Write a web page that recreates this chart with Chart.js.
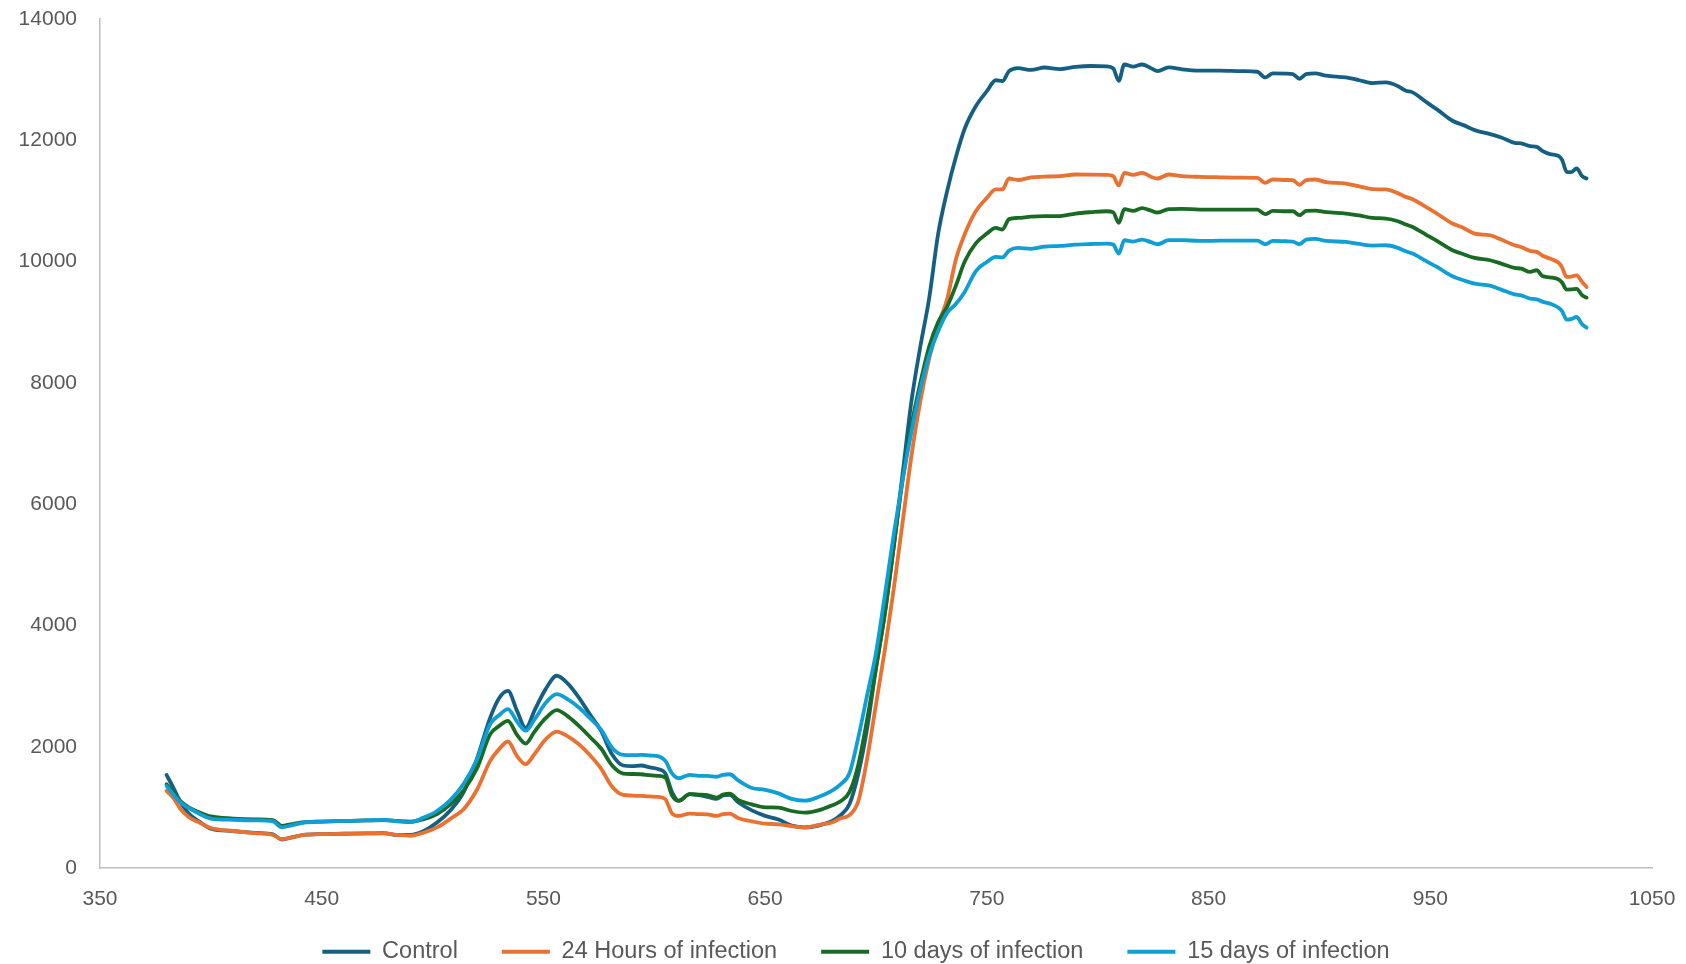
<!DOCTYPE html>
<html>
<head>
<meta charset="utf-8">
<script src="https://cdn.jsdelivr.net/npm/chart.js@4.4.1/dist/chart.umd.min.js"></script>
<style>
  html, body { margin: 0; padding: 0; background: #ffffff; }
  #c { display: block; }
</style>
</head>
<body>
<canvas id="c" width="1686" height="964"></canvas>
<script>
// Reflectance spectra (wavelength in nm) for each infection stage
const wavelengths = [
  380,383,386,390,395,400,410,420,428,432,
  436,442,450,460,470,478,484,490,496,502,
  508,514,520,526,530,534,538,542,546,551,
  556,561,566,571,576,581,586,590,594,598,
  602,605,608,611,616,620,624,628,631,634,
  638,644,650,656,662,668,674,680,684,688,
  692,696,700,704,708,712,716,720,724,728,
  732,736,740,745,750,754,757,760,764,770,
  776,783,790,797,804,807,809.5,812,816,820,
  824,827,832,838,846,855,865,872,875.5,879,
  885,888,891,894,898,903,912,918,924,930,
  935,939,942,948,953,960,965,970,977,982,
  988,991,995,998,1000.5,1004,1008,1009.5,1011.5,1013.5,
  1016,1018.5,1020.5
];

const control = [
  1535,1330,1110,900,760,650,610,580,555,470,
  500,545,560,565,570,575,545,545,611,750,
  950,1250,1800,2480,2800,2920,2600,2310,2600,2950,
  3170,3040,2810,2530,2260,1870,1690,1680,1690,1660,
  1630,1560,1250,1110,1217,1200,1172,1140,1195,1205,
  1080,950,860,800,700,670,700,770,870,1050,
  1550,2300,3300,4200,5300,6500,7700,8600,9400,10450,
  11150,11720,12190,12560,12810,12990,12975,13140,13190,13160,
  13200,13175,13210,13225,13220,13185,12980,13250,13215,13250,
  13190,13140,13203,13170,13150,13150,13140,13130,13037,13103,
  13100,13092,13015,13092,13103,13065,13037,12990,12944,12955,
  12900,12817,12790,12635,12509,12322,12250,12168,12102,12047,
  11958,11948,11904,11892,11826,11771,11738,11672,11480,11474,
  11535,11408,11370
];

const hours24 = [
  1271,1161,990,840,745,660,610,575,545,475,
  500,545,560,565,570,571,545,532,583,670,
  810,970,1290,1767,1960,2086,1850,1712,1880,2120,
  2250,2170,2040,1860,1640,1340,1205,1195,1189,1180,
  1172,1134,900,859,897,890,886,858,890,897,
  820,770,731,721,690,666,710,750,820,870,
  1100,1800,2700,3600,4600,5700,6800,7700,8400,8950,
  9370,10030,10450,10830,11050,11189,11189,11370,11345,11390,
  11400,11410,11436,11435,11430,11410,11255,11463,11430,11463,
  11400,11370,11436,11410,11397,11390,11385,11381,11298,11353,
  11345,11342,11265,11342,11353,11309,11287,11240,11194,11189,
  11133,11067,11029,10902,10792,10627,10555,10462,10434,10363,
  10269,10241,10175,10160,10100,10049,9977,9900,9746,9750,
  9774,9664,9581
];

const days10 = [
  1382,1244,1110,1000,915,850,815,800,790,695,
  720,755,765,775,785,790,775,765,805,890,
  1050,1280,1640,2207,2340,2427,2200,2052,2250,2470,
  2603,2500,2344,2160,1970,1690,1557,1550,1546,1530,
  1519,1491,1200,1106,1217,1210,1200,1161,1210,1227,
  1117,1050,1000,996,940,913,950,1030,1100,1250,
  1700,2450,3300,4200,5300,6400,7300,8000,8600,9000,
  9250,9600,10000,10300,10462,10555,10528,10700,10720,10740,
  10748,10750,10792,10815,10830,10810,10637,10864,10836,10880,
  10840,10809,10864,10870,10857,10857,10857,10857,10781,10836,
  10830,10830,10765,10836,10841,10814,10792,10760,10720,10709,
  10670,10610,10571,10445,10340,10187,10120,10060,10022,9967,
  9895,9884,9829,9857,9763,9740,9703,9650,9538,9540,
  9549,9444,9406
];

const days15 = [
  1354,1217,1090,990,890,815,795,785,770,670,
  700,748,765,775,785,792,770,755,831,940,
  1120,1390,1790,2372,2520,2620,2420,2265,2450,2720,
  2867,2780,2647,2470,2280,1980,1866,1860,1866,1855,
  1840,1766,1560,1480,1535,1520,1519,1505,1535,1546,
  1440,1320,1290,1230,1140,1110,1170,1270,1380,1560,
  2150,2850,3550,4500,5500,6400,7200,7900,8450,8850,
  9150,9300,9500,9840,9994,10076,10070,10180,10225,10210,
  10245,10258,10280,10290,10297,10280,10132,10352,10330,10363,
  10320,10286,10352,10355,10340,10345,10347,10345,10286,10340,
  10335,10330,10286,10363,10374,10340,10324,10290,10264,10269,
  10231,10170,10132,10011,9911,9757,9691,9636,9603,9538,
  9460,9444,9389,9378,9340,9306,9234,9180,9042,9050,
  9086,8965,8910
];

const seriesNames = ['Control', '24 Hours of infection', '10 days of infection', '15 days of infection'];
const seriesColors = ['#156082', '#E97132', '#196B24', '#0F9ED5'];
const seriesValues = [control, hours24, days10, days15];

const toPoints = (vals) => wavelengths.map((w, i) => ({ x: w, y: vals[i] }));

const datasets = seriesValues.map((vals, k) => ({
  label: seriesNames[k],
  data: toPoints(vals),
  borderColor: seriesColors[k],
  backgroundColor: seriesColors[k],
  borderWidth: 3.8,
  pointRadius: 0,
  pointHoverRadius: 0,
  fill: false,
  cubicInterpolationMode: 'monotone',
  borderCapStyle: 'round',
  borderJoinStyle: 'round',
  // later series are painted over earlier ones
  order: seriesValues.length - 1 - k
}));

const tickFont = { family: '"Liberation Sans", Arial, sans-serif', size: 21 };
const legendFontSize = 23.5;
const axisGray = '#bfbfbf';
const textGray = '#595959';

// nudge the legend row to the right so it sits centred under the plot
const legendShift = {
  id: 'legendShift',
  afterLayout(chart) {
    const lg = chart.legend;
    if (lg) { lg.left += 30; lg.right += 30; }
  }
};

new Chart(document.getElementById('c'), {
  type: 'line',
  data: { datasets },
  plugins: [legendShift],
  options: {
    responsive: false,
    animation: false,
    layout: { padding: { top: 19, right: 34, bottom: -9.5, left: 0 } },
    plugins: {
      tooltip: { enabled: false },
      legend: {
        position: 'bottom',
        align: 'center',
        labels: {
          usePointStyle: true,
          pointStyle: 'line',
          pointStyleWidth: 48,
          padding: 44,
          color: textGray,
          font: { family: '"Liberation Sans", Arial, sans-serif', size: legendFontSize },
          sort: (a, b) => a.datasetIndex - b.datasetIndex
        }
      }
    },
    scales: {
      x: {
        type: 'linear',
        min: 350,
        max: 1050,
        grid: { display: false, drawTicks: false },
        border: { display: true, color: axisGray, width: 1.5 },
        ticks: {
          stepSize: 100, color: textGray, font: tickFont, padding: 19,
          maxRotation: 0, autoSkip: false,
          callback: (v) => String(v)
        },
        afterFit: (scale) => {
          scale.height = 28;
          scale.paddingLeft = 0;
          scale.paddingRight = 0;
          // let the tick labels extend below the thin axis box
          scale._computeLabelArea = () => undefined;
        }
      },
      y: {
        min: 0,
        max: 14000,
        grid: { display: false, drawTicks: false },
        border: { display: true, color: axisGray, width: 1.5 },
        ticks: {
          stepSize: 2000, color: textGray, font: tickFont, padding: 23,
          callback: (v) => String(v)
        },
        afterFit: (scale) => {
          scale.width = 100;
          scale.paddingTop = 0;
          scale.paddingBottom = 0;
        }
      }
    }
  }
});
</script>
</body>
</html>
